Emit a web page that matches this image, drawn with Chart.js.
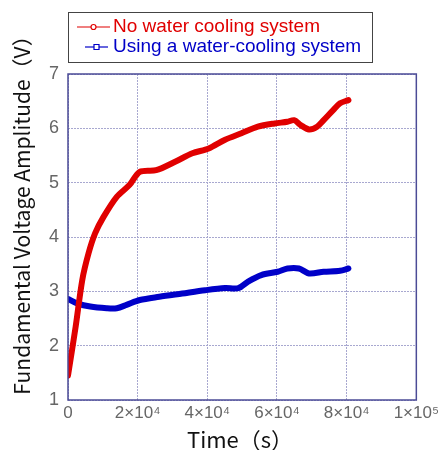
<!DOCTYPE html>
<html>
<head>
<meta charset="utf-8">
<script src="https://cdn.jsdelivr.net/npm/chart.js@4"></script>
<style>
  html, body { margin: 0; padding: 0; background: #fff; }
  #wrap { width: 442px; height: 450px; }
</style>
</head>
<body>
<div id="wrap"><canvas id="chart" width="442" height="450"></canvas></div>
<script>
// ── Data ────────────────────────────────────────────────────
const SERIES_LABELS = ['No water cooling system', 'Using a water-cooling system'];
const X_TITLE = 'Time（s）';
const Y_TITLE = 'Fundamental Voltage Amplitude（V）';

const noCoolTime = [0, 2200, 4100, 5900, 7800, 10200, 14000, 17700, 20600, 25300, 30900,
  35700, 40400, 45100, 49800, 54500, 59300, 63000, 64900, 66800, 69200, 71500, 73400, 76200, 78100, 80500];
const noCoolVolt = [1.45, 2.35, 3.21, 3.70, 4.07, 4.37, 4.74, 4.96, 5.20, 5.23, 5.39,
  5.54, 5.63, 5.79, 5.91, 6.03, 6.09, 6.12, 6.15, 6.06, 5.98, 6.03, 6.15, 6.34, 6.46, 6.52];

const coolTime = [0, 2600, 6400, 11100, 14000, 16800, 20600, 26200, 32800, 39400, 45100,
  48900, 51700, 55500, 60200, 63000, 66300, 69200, 73400, 78100, 80500];
const coolVolt = [2.86, 2.78, 2.72, 2.69, 2.69, 2.75, 2.84, 2.90, 2.96, 3.02, 3.06,
  3.06, 3.18, 3.30, 3.36, 3.42, 3.42, 3.33, 3.36, 3.38, 3.42];

const COLORS = ['#e00000', '#0000c8'];
const SUP = { '4': '⁴', '5': '⁵' };

function toPoints(xs, ys) { return xs.map((x, i) => ({ x, y: ys[i] })); }

// ── Frame, axis titles and legend ───────────────────────────
const decor = {
  id: 'decor',
  afterDraw(chart) {
    const { ctx, chartArea: a } = chart;
    ctx.save();
    ctx.strokeStyle = '#4b4b96';
    ctx.lineWidth = 1.5;
    ctx.strokeRect(a.left, a.top, a.right - a.left, a.bottom - a.top);

    // axis titles
    ctx.fillStyle = '#111';
    ctx.font = '21px "Noto Sans CJK SC", "Liberation Sans", sans-serif';
    ctx.textAlign = 'center';
    ctx.textBaseline = 'middle';
    ctx.font = '22px "Noto Sans CJK SC", "Liberation Sans", sans-serif';
    ctx.fillText(X_TITLE, 240, 440);
    ctx.font = '21px "Noto Sans CJK SC", "Liberation Sans", sans-serif';
    ctx.translate(22, 210);
    ctx.rotate(-Math.PI / 2);
    ctx.fillText(Y_TITLE, 0, 0);
    ctx.restore();

    // legend box
    ctx.save();
    ctx.fillStyle = '#fff';
    ctx.fillRect(68, 12, 304, 50);
    ctx.strokeStyle = '#444';
    ctx.lineWidth = 1;
    ctx.strokeRect(68.5, 12.5, 304, 50);
    ctx.font = '19px "Liberation Sans", Arial, sans-serif';
    ctx.textAlign = 'left';
    ctx.textBaseline = 'middle';
    const rows = [{ y: 27, x0: 77, x1: 110, mark: 'circle' }, { y: 47, x0: 85, x1: 108, mark: 'square' }];
    rows.forEach((r, i) => {
      ctx.strokeStyle = COLORS[i];
      ctx.lineWidth = 1.2;
      ctx.beginPath(); ctx.moveTo(r.x0, r.y); ctx.lineTo(r.x1, r.y); ctx.stroke();
      const cx = (r.x0 + r.x1) / 2;
      ctx.fillStyle = '#fff';
      ctx.beginPath();
      if (r.mark === 'circle') ctx.arc(cx, r.y, 2.5, 0, Math.PI * 2);
      else ctx.rect(cx - 2.5, r.y - 2.5, 5, 5);
      ctx.fill(); ctx.stroke();
      ctx.fillStyle = COLORS[i];
      ctx.fillText(SERIES_LABELS[i], 113, r.y);
    });
    ctx.restore();
  },
};

new Chart(document.getElementById('chart'), {
  type: 'line',
  data: {
    datasets: [
      { label: SERIES_LABELS[0], data: toPoints(noCoolTime, noCoolVolt), borderColor: COLORS[0],
        borderWidth: 6, pointRadius: 0, tension: 0.3, borderCapStyle: 'round', borderJoinStyle: 'round' },
      { label: SERIES_LABELS[1], data: toPoints(coolTime, coolVolt), borderColor: COLORS[1],
        borderWidth: 6, pointRadius: 0, tension: 0.3, borderCapStyle: 'round', borderJoinStyle: 'round' },
    ],
  },
  options: {
    responsive: false,
    animation: false,
    layout: { padding: { top: 74, right: 22, left: 0, bottom: 0 } },
    plugins: { legend: { display: false }, tooltip: { enabled: false } },
    scales: {
      x: {
        type: 'linear', min: 0, max: 100000,
        afterFit: s => { s.height = 50; },
        border: { display: false, dash: [2, 1] },
        grid: { color: '#a8a8d0', lineWidth: 1, drawTicks: false },
        ticks: {
          stepSize: 20000, padding: 3, color: '#666', maxRotation: 0,
          font: { family: '"Liberation Sans", Arial, sans-serif', size: 17 },
          callback: v => {
            if (v === 0) return '0';
            const e = Math.floor(Math.log10(v));
            const m = Math.round(v / Math.pow(10, e));
            return m + '×10' + SUP[String(e)];
          },
        },
      },
      y: {
        min: 1, max: 7,
        afterFit: s => { s.width = 68; },
        border: { display: false, dash: [2, 1] },
        grid: { color: '#a8a8d0', lineWidth: 1, drawTicks: false },
        ticks: {
          stepSize: 1, padding: 9, color: '#666',
          font: { family: '"Liberation Sans", Arial, sans-serif', size: 18 },
        },
      },
    },
  },
  plugins: [decor],
});
</script>
</body>
</html>
